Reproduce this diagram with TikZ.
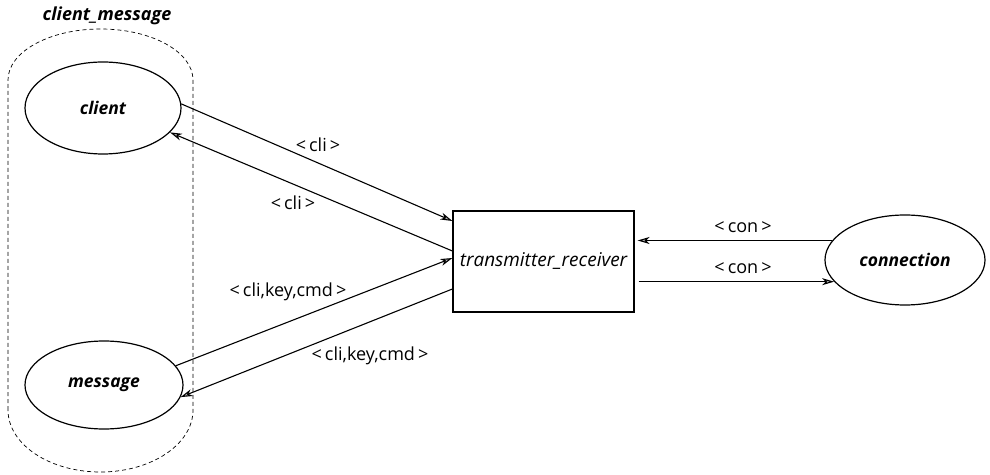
\documentclass[tikz,border=0pt]{standalone}
\usepackage{fontspec}
\setmainfont{Open Sans}
\usetikzlibrary{shapes.geometric,arrows.meta}
\begin{document}
\begin{tikzpicture}[x=1pt,y=1pt,
  every node/.style={font=\fontsize{18}{21}\selectfont},
  proc/.style={ellipse,draw,line width=1.2pt,inner sep=0pt,font=\fontsize{17.5}{21}\selectfont\bfseries\itshape},
  box/.style={rectangle,draw,line width=1.2pt,inner sep=0pt,font=\fontsize{19}{22}\selectfont\itshape},
  flow/.style={line width=1.1pt,-{Stealth[length=12pt,width=7pt,inset=3.5pt,fill=gray!55]}},
  msg/.style={inner sep=1pt}]
\useasboundingbox (0,0) rectangle (990,474);

% grouping boundary
\draw[dashed,line width=0.7pt,dash pattern=on 4pt off 3pt]
  (8,64) -- (8,394) arc[start angle=180,end angle=0,x radius=92.5,y radius=51]
  -- (193,64) arc[start angle=0,end angle=-180,x radius=92.5,y radius=62] -- cycle;
\node[font=\fontsize{18}{21}\selectfont\bfseries\itshape] (grp) at (107,458) {client\_message};

% processes
\node[proc,minimum width=156pt,minimum height=92pt] (client) at (103,366) {client};
\node[proc,minimum width=158pt,minimum height=88pt] (message) at (104,89) {message};
\node[box,minimum width=181pt,minimum height=101pt] (tr) at (543.5,212.5) {transmitter\_receiver};
\node[proc,minimum width=160pt,minimum height=90pt] (conn) at (905,214) {connection};

% flows
\draw[flow] (client.3) -- ([yshift=40.5pt]tr.west);
\draw[flow] ([yshift=10.5pt]tr.west) -- (client.-20);
\draw[flow] (message.15) -- ([yshift=3.5pt]tr.west);
\draw[flow] ([yshift=-27.5pt]tr.west) -- (message.-9);
\draw[flow] (conn.165) -- ([xshift=3pt]conn.165 -| tr.east);
\draw[flow] ([xshift=4pt]tr.east |- conn.197) -- (conn.197);

% flow labels
\node[msg] (l1) at (318,329) {<\,cli\,>};
\node[msg] (l2) at (293,271) {<\,cli\,>};
\node[msg] (l3) at (288,182) {<\,cli,key,cmd\,>};
\node[msg] (l4) at (370,118) {<\,cli,key,cmd\,>};
\node[msg] (l5) at (743,247) {<\,con\,>};
\node[msg] (l6) at (743,206) {<\,con\,>};
\end{tikzpicture}
\end{document}
